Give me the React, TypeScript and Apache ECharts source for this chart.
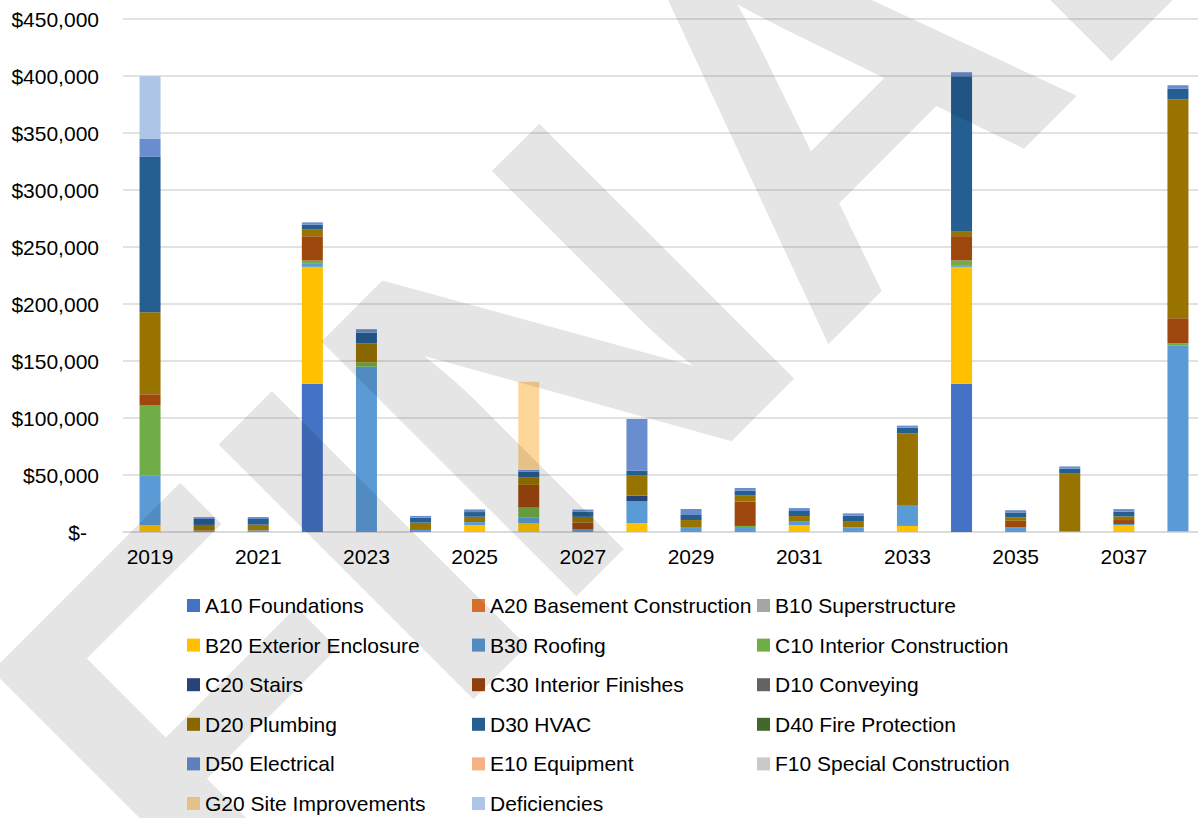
import React, { useEffect, useRef } from "react";
import * as echarts from "echarts";

const years = ["2019","2020","2021","2022","2023","2024","2025","2026","2027","2028","2029","2030","2031","2032","2033","2034","2035","2036","2037","2038"];

const seriesNames = [
  "A10 Foundations","A20 Basement Construction","B10 Superstructure",
  "B20 Exterior Enclosure","B30 Roofing","C10 Interior Construction",
  "C20 Stairs","C30 Interior Finishes","D10 Conveying",
  "D20 Plumbing","D30 HVAC","D40 Fire Protection",
  "D50 Electrical","E10 Equipment","F10 Special Construction",
  "G20 Site Improvements","Deficiencies",
];

const seriesColors = [
  "#4472C4","#ED7D31","#A5A5A5",
  "#FFC000","#5B9BD5","#70AD47",
  "#264478","#9E480E","#636363",
  "#997300","#255E91","#43682B",
  "#698ED0","#F4B183","#C9C9C9",
  "#FFD699","#ADC6E7",
];

// values per year 2019..2038
const a10 = [0,0,0,130000,0,0,0,0,0,0,0,0,0,0,0,130000,0,0,0,0];
const a20 = [0,0,0,0,0,0,0,0,0,0,0,0,0,0,0,0,0,0,0,0];
const b10 = [0,0,0,0,0,0,0,0,0,0,0,0,0,0,0,0,0,0,0,0];
const b20 = [6100,0,0,102600,0,0,6100,7900,0,7900,0,0,6100,0,5300,102600,0,500,5800,600];
const b30 = [43300,1200,1500,2600,145000,1800,2600,5000,2600,19300,4400,3500,3500,4100,18400,1500,3500,0,1200,163200];
const c10 = [62000,0,0,2900,3800,0,0,8500,0,0,0,1800,0,0,0,4100,500,0,0,1800];
const c20 = [0,0,0,0,0,0,0,0,0,4700,0,0,0,0,0,0,0,0,0,0];
const c30 = [9400,0,0,21300,0,0,0,19900,5800,0,0,21300,0,0,0,21300,5800,0,3500,21900];
const d10 = [0,0,0,0,0,0,0,0,0,0,0,0,0,0,0,0,0,0,0,0];
const d20 = [72000,5000,4900,5800,16700,6400,4700,6800,4900,17500,6100,5300,4400,5500,62900,3800,2900,50600,3200,192100];
const d30 = [136500,5300,5000,4400,9400,4400,4100,4900,4400,4400,4400,4400,4400,4700,4900,136500,4400,4400,4100,9100];
const d40 = [0,0,0,0,0,0,0,0,0,0,0,0,0,0,0,0,0,0,0,0];
const d50 = [15500,1500,1700,2000,3000,1500,2300,1500,2000,45300,5300,2300,2600,2000,1800,3500,2000,2000,2300,3200];
const e10 = [0,0,0,0,0,0,0,0,0,0,0,0,0,0,0,0,0,0,0,0];
const f10 = [0,0,0,0,0,0,0,0,0,0,0,0,0,0,0,0,0,0,0,0];
const g20 = [0,0,0,0,0,0,0,77200,0,0,0,0,0,0,0,0,0,0,0,0];
const deficiencies = [55000,0,0,0,0,0,0,0,0,0,0,0,0,0,0,0,0,0,0,0];

const seriesValues = [a10,a20,b10,b20,b30,c10,c20,c30,d10,d20,d30,d40,d50,e10,f10,g20,deficiencies];

const yTicks = { min: 0, max: 450000, interval: 50000 };

const watermarkText = "FINAL";

const FONT = 'Arial, "Liberation Sans", sans-serif';

export default function App() {
  const ref = useRef<HTMLDivElement>(null);
  useEffect(() => {
    if (!ref.current) return;
    const chart = echarts.init(ref.current, null, { renderer: "svg" });

    const series = seriesNames.map((name, i) => ({
      name,
      type: "bar",
      stack: "total",
      barWidth: 21,
      itemStyle: { color: seriesColors[i] },
      data: seriesValues[i].map((v) => (v === 0 ? null : v)),
    }));

    const cols = [0, 1, 2].map((c) => seriesNames.filter((_, i) => i % 3 === c));
    const legendLefts = [187, 472, 757];
    const legends = cols.map((data, c) => ({
      orient: "vertical",
      left: legendLefts[c],
      top: 595,
      itemWidth: 13,
      itemHeight: 13,
      itemGap: 18.6,
      icon: "rect",
      padding: 0,
      textStyle: { fontFamily: FONT, fontSize: 21, lineHeight: 21, color: "#000" },
      data,
    }));

    chart.setOption({
      animation: false,
      textStyle: { fontFamily: FONT },
      grid: { left: 123, right: -7, top: 19, bottom: 286, outerBoundsMode: "none", containLabel: false },
      legend: legends,
      xAxis: {
        type: "category",
        data: years,
        axisTick: { show: false },
        axisLine: { lineStyle: { color: "#D9D9D9", width: 1.5 } },
        axisLabel: { interval: 1, fontSize: 21, color: "#000", margin: 14, fontFamily: FONT },
      },
      yAxis: {
        type: "value",
        min: yTicks.min,
        max: yTicks.max,
        interval: yTicks.interval,
        axisLine: { show: false },
        axisTick: { show: false },
        splitLine: { lineStyle: { color: "#D9D9D9", width: 1.5 } },
        axisLabel: {
          fontSize: 21,
          color: "#000",
          margin: 24,
          fontFamily: FONT,
          formatter: (v: number) => (v === 0 ? "{z|$-}" : "$" + v.toLocaleString("en-US")),
          rich: { z: { fontSize: 21, fontFamily: FONT, color: "#000", padding: [0, 12, 0, 0] } },
        },
      },
      graphic: [
        {
          type: "text",
          x: 94,
          y: 822,
          rotation: Math.PI / 4,
          z: 100,
          silent: true,
          style: {
            text: watermarkText,
            fontSize: 524,
            fontWeight: "bold",
            fontFamily: 'Arial, "Liberation Sans", sans-serif',
            fill: "rgba(0,0,0,0.1)",
            textAlign: "left",
            textVerticalAlign: "middle",
          },
        },
      ],
      series,
    });
    return () => chart.dispose();
  }, []);
  return (
    <div
      ref={ref}
      style={{ position: "fixed", left: 0, top: 0, width: 1198, height: 818, background: "#fff" }}
    />
  );
}
